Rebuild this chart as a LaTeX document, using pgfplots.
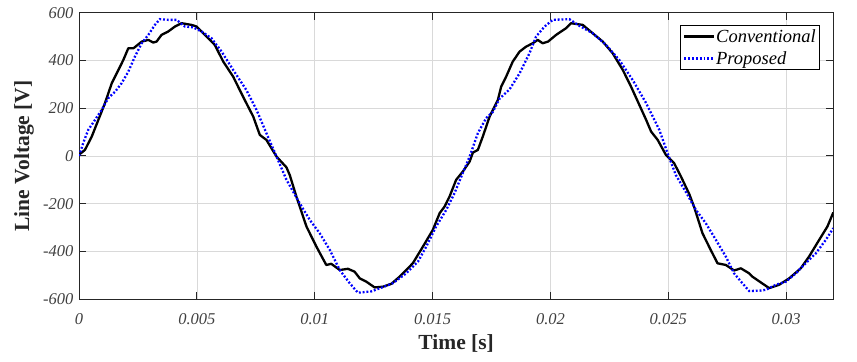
\documentclass[border=0pt]{standalone}
\usepackage{pgfplots}
\pgfplotsset{compat=1.18}
\usepackage{fontspec}
\setmainfont{Liberation Serif}
\definecolor{axgray}{HTML}{262626}
\definecolor{tickgray}{HTML}{404040}
\definecolor{mblue}{HTML}{0000FF}
\begin{document}
\begin{tikzpicture}
\begin{axis}[
  scale only axis,
  width=754pt, height=286.3pt,
  xmin=0, xmax=0.032, ymin=-600, ymax=600,
  xtick={0,0.005,0.01,0.015,0.02,0.025,0.03},
  xticklabels={0,0.005,0.01,0.015,0.02,0.025,0.03},
  ytick={-600,-400,-200,0,200,400,600},
  yticklabels={-600,-400,-200,0,200,400,600},
  scaled x ticks=false,
  tick align=inside,
  major tick length=7pt,
  tick style={color=axgray, line width=0.9pt},
  axis line style={color=axgray, line width=0.9pt},
  grid=major,
  grid style={color=black!15, line width=0.7pt},
  ticklabel style={font=\fontsize{16.5}{19}\selectfont\itshape, text=tickgray},
  xticklabel style={anchor=base, yshift=-25pt},
  yticklabel style={anchor=east, xshift=-2pt},
  xlabel={Time [s]},
  ylabel={Line Voltage [V]},
  label style={font=\fontsize{21.5}{24}\selectfont\bfseries, text=axgray},
  xlabel style={at={(axis description cs:0.5,-0.1537)}, anchor=center},
  ylabel style={at={(axis description cs:-0.0729,0.5)}, anchor=center, rotate=0},
  legend style={at={(axis description cs:0.9828,0.957)}, anchor=north east,
    draw=black, line width=0.9pt, font=\fontsize{18.5}{21}\selectfont\itshape,
    inner xsep=2.5pt, inner ysep=2.5pt, row sep=4.5pt,
    nodes={inner sep=1.5pt}, cells={anchor=west}},
  legend cell align=left,
  legend image code/.code={\draw[#1] (0pt,0pt) -- (29pt,0pt);},
]
\addplot[black, line width=2.3pt, line join=round] coordinates {
(0,5) (0.00025,25) (0.00054,81) (0.00082,151) (0.0011,221) (0.00139,305) (0.00167,360)
(0.00188,402) (0.00209,451) (0.00231,451) (0.00266,479) (0.00294,486) (0.00315,475)
(0.00329,479) (0.0035,507) (0.00378,521) (0.00407,542) (0.00435,556) (0.00477,549)
(0.00499,542) (0.00534,507) (0.00576,465) (0.00612,395) (0.00654,332) (0.00696,248)
(0.00739,165) (0.00767,88) (0.00795,67) (0.00838,-3) (0.0088,-48) (0.00894,-80)
(0.00922,-170) (0.00965,-296) (0.01007,-380) (0.01049,-457) (0.0107,-452) (0.01106,-478)
(0.01141,-473) (0.01169,-485) (0.01191,-513) (0.01219,-527) (0.01254,-551) (0.01289,-548)
(0.01325,-536) (0.0136,-506) (0.01416,-450) (0.01459,-380) (0.01501,-310) (0.0153,-240)
(0.01551,-212) (0.01572,-170) (0.016,-100) (0.01628,-66) (0.01657,-24)
(0.01671,14) (0.01692,25) (0.01713,81) (0.01742,165) (0.01777,235) (0.01791,290)
(0.01812,332) (0.0184,395) (0.01869,437) (0.01897,458) (0.01925,472) (0.01946,486)
(0.01967,472) (0.0199,479) (0.02024,507) (0.02066,535) (0.02087,556) (0.02137,549)
(0.02179,514) (0.02222,479) (0.02264,430) (0.02307,360) (0.02342,290) (0.02377,214)
(0.02406,151) (0.02427,102) (0.02455,67) (0.0249,4) (0.02525,-31) (0.02554,-87)
(0.02589,-160) (0.0261,-215) (0.02645,-324) (0.0268,-394) (0.02709,-450) (0.02744,-457)
(0.02779,-480) (0.02808,-471) (0.02843,-492) (0.02857,-506) (0.02885,-525) (0.02928,-554)
(0.0297,-540) (0.03013,-513) (0.03062,-471) (0.03097,-422) (0.0314,-352) (0.03175,-296)
(0.032,-237)
};
\addlegendentry{Conventional}
\addplot[mblue, line width=2.3pt, dash pattern=on 1.9pt off 1.9pt] coordinates {
(0,0) (0.0002,60) (0.00039,109) (0.00068,151) (0.00096,193) (0.00124,242) (0.00153,269)
(0.00181,305) (0.00209,353) (0.00237,416) (0.00266,472) (0.00294,507) (0.00322,549)
(0.00343,573) (0.00379,570) (0.00414,570) (0.00449,542) (0.00484,539) (0.0052,521)
(0.00562,493) (0.00605,437) (0.00654,360) (0.0071,276) (0.00753,193) (0.00795,95)
(0.00838,-3) (0.0088,-100) (0.00936,-198) (0.00979,-268) (0.01021,-324) (0.01064,-394)
(0.01106,-478) (0.01148,-533) (0.01183,-573) (0.01239,-568) (0.01289,-550) (0.01332,-533)
(0.01388,-492) (0.01438,-443) (0.01473,-380) (0.01515,-296) (0.01558,-226) (0.01593,-156)
(0.01628,-72) (0.01657,-3)
(0.01692,95) (0.01727,158) (0.01756,185) (0.01784,240) (0.01826,278) (0.01869,346)
(0.01911,430) (0.01939,500) (0.01975,542) (0.0201,570) (0.0208,573) (0.02123,545)
(0.02179,514) (0.02236,465) (0.02292,402) (0.02349,318) (0.02406,221) (0.02462,109)
(0.02497,11) (0.02532,-80) (0.02575,-152) (0.02617,-226) (0.02659,-282) (0.02702,-352)
(0.02744,-422) (0.02779,-492) (0.02814,-533) (0.02843,-566) (0.02885,-565) (0.02914,-561)
(0.02956,-540) (0.02999,-527) (0.03041,-492) (0.03083,-450) (0.03126,-408) (0.03168,-352)
(0.032,-303)
};
\addlegendentry{Proposed}
\end{axis}
\pgfresetboundingbox
\path[use as bounding box] ([shift={(-79pt,-62pt)}]current axis.south west) rectangle ([shift={(23.7pt,12.7pt)}]current axis.north east);
\end{tikzpicture}
\end{document}
